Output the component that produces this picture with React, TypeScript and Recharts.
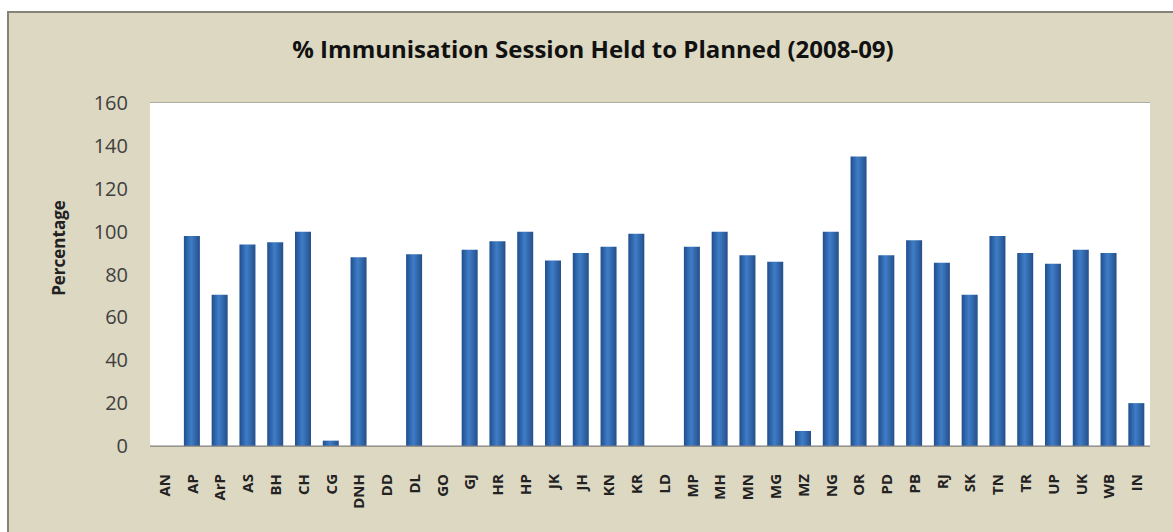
import React from 'react';
import { BarChart, Bar, XAxis, YAxis, CartesianGrid } from 'recharts';

const states = ['AN','AP','ArP','AS','BH','CH','CG','DNH','DD','DL','GO','GJ','HR','HP','JK','JH','KN','KR','LD','MP','MH','MN','MG','MZ','NG','OR','PD','PB','RJ','SK','TN','TR','UP','UK','WB','IN'];
const heldToPlanned = [0,98,70.5,94,95,100,2.5,88,0,89.5,0,91.5,95.5,100,86.5,90,93,99,0,93,100,89,86,7,100,135,89,96,85.5,70.5,98,90,85,91.5,90,20];
const yTicks = [0,20,40,60,80,100,120,140,160];
const title = '% Immunisation Session Held to Planned (2008-09)';
const yLabel = 'Percentage';

const data = states.map((s, i) => ({ state: s, value: heldToPlanned[i] }));

const XTick = (props: any) => {
  const { x, y, payload } = props;
  return (
    <text
      x={x}
      y={y}
      transform={`rotate(-90 ${x} ${y})`}
      textAnchor="end"
      dominantBaseline="central"
      fontFamily="'Open Sans', sans-serif"
      fontWeight={700}
      fontSize={15}
      fill="#222"
    >
      {payload.value}
    </text>
  );
};

export default function App() {
  return (
    <div style={{ position: 'fixed', left: 0, top: 0, width: 1173, height: 532, overflow: 'hidden', background: '#fff' }}>
      <div
        style={{
          position: 'absolute',
          left: 7,
          top: 11,
          width: 1180,
          height: 540,
          background: '#ddd8c2',
          borderLeft: '2px solid #85827a',
          borderTop: '2px solid #85827a',
        }}
      />
      <div
        style={{
          position: 'absolute',
          left: 0,
          width: 1186,
          top: 34,
          textAlign: 'center',
          fontFamily: "'Open Sans', sans-serif",
          fontWeight: 700,
          fontSize: 24,
          color: '#111',
          lineHeight: '30px',
          whiteSpace: 'nowrap',
        }}
      >
        {title}
      </div>
      <div style={{ position: 'absolute', left: 0, top: 0 }}>
        <BarChart
          width={1173}
          height={532}
          data={data}
          margin={{ top: 103, right: 23, bottom: 6, left: 110 }}
          barCategoryGap="22%"
        >
          <defs>
            <linearGradient id="barGrad" x1="0" y1="0" x2="1" y2="0">
              <stop offset="0%" stopColor="#1f4e8e" />
              <stop offset="45%" stopColor="#3f7dc8" />
              <stop offset="100%" stopColor="#244f8a" />
            </linearGradient>
          </defs>
          <rect x={150} y={103} width={1000} height={343} fill="#ffffff" />
          <CartesianGrid vertical={false} stroke="#7f7f7f" strokeWidth={1} />
          <XAxis
            dataKey="state"
            height={80}
            interval={0}
            tickLine={false}
            axisLine={{ stroke: '#7f7f7f' }}
            tickMargin={22}
            tick={<XTick />}
          />
          <YAxis
            width={40}
            domain={[0, 160]}
            ticks={yTicks}
            interval={0}
            tickLine={false}
            axisLine={false}
            tickSize={0}
            tickMargin={22}
            tick={{ fontFamily: "'Open Sans', sans-serif", fontSize: 20, fill: '#404040' }}
            label={() => (
              <text
                x={58}
                y={248}
                transform="rotate(-90 58 248)"
                textAnchor="middle"
                dominantBaseline="central"
                fontFamily="'Open Sans', sans-serif"
                fontWeight={700}
                fontSize={17}
                fill="#222"
              >
                {yLabel}
              </text>
            )}
          />
          <Bar dataKey="value" fill="url(#barGrad)" isAnimationActive={false} />
        </BarChart>
      </div>
    </div>
  );
}
